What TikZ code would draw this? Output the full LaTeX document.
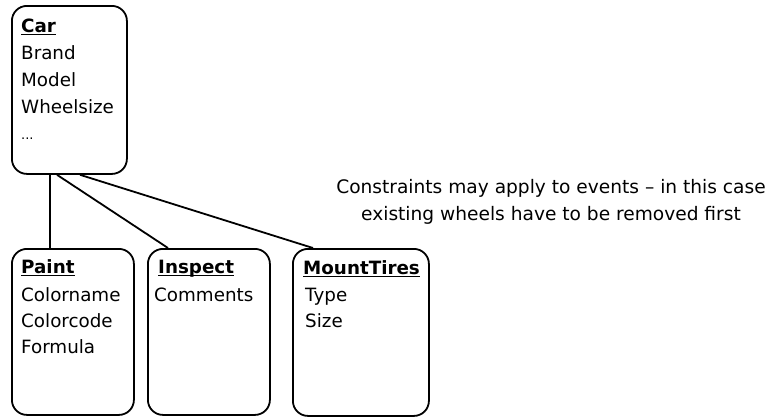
\documentclass[tikz,border=0pt]{standalone}
\usepackage{fontspec}
\setmainfont{DejaVu Sans}
\begin{document}
\begin{tikzpicture}[x=1pt,y=-1pt,
  entity/.style={draw,line width=1.8pt,rounded corners=15pt,inner sep=0pt,anchor=north west},
  attr/.style={anchor=base west,inner sep=0pt,font=\fontsize{18.3}{26}\selectfont},
  title/.style={attr,font=\fontsize{18.3}{26}\selectfont\bfseries},
  notetext/.style={anchor=base,inner sep=0pt,font=\fontsize{18.6}{26}\selectfont},
  uline/.style={line width=1.3pt},
  link/.style={line width=1.8pt}]
\useasboundingbox (0,0) rectangle (776,416);

% entity boxes
\node[entity,minimum width=115pt,minimum height=168pt] (car) at (11,5) {};
\node[entity,minimum width=122pt,minimum height=166pt] (paint) at (11,248) {};
\node[entity,minimum width=122pt,minimum height=166pt] (inspect) at (147,248) {};
\node[entity,minimum width=136pt,minimum height=167pt] (mount) at (292,248) {};

% Car attributes
\node[title] (cart) at (21,32) {Car};
\node[attr] (brand) at (21,59) {Brand};
\node[attr] (model) at (21,86) {Model};
\node[attr] (wheel) at (21,113) {Wheelsize};
\node[attr] (dots) at (21,139) {\fontsize{13}{26}\selectfont...};

% Paint attributes
\node[title] (paintt) at (21,273) {Paint};
\node[attr] (cname) at (21,301) {Colorname};
\node[attr] (ccode) at (21,327) {Colorcode};
\node[attr] (formula) at (21,353) {Formula};

% Inspect attributes
\node[title] (inspt) at (158,273) {Inspect};
\node[attr] (comments) at (154,301) {Comments};

% MountTires attributes
\node[title] (mountt) at (303,274) {MountTires};
\node[attr] (type) at (305,301) {Type};
\node[attr] (size) at (305,327) {Size};

% underlined titles
\foreach \t in {cart,paintt,inspt,mountt}
  \draw[uline] ([yshift=-2.5pt]\t.base west) -- ([yshift=-2.5pt]\t.base east);

% links from Car to the events
\draw[link] ([xshift=39pt]car.south west) -- ([xshift=39pt]paint.north west);
\draw[link] ([xshift=46pt]car.south west) -- ([xshift=21pt]inspect.north west);
\draw[link] ([xshift=69pt]car.south west) -- ([xshift=21pt]mount.north west);

% note
\node[notetext] (note1) at (551,193) {Constraints may apply to events -- in this case};
\node[notetext] (note2) at (551,220) {existing wheels have to be removed first};
\end{tikzpicture}
\end{document}
